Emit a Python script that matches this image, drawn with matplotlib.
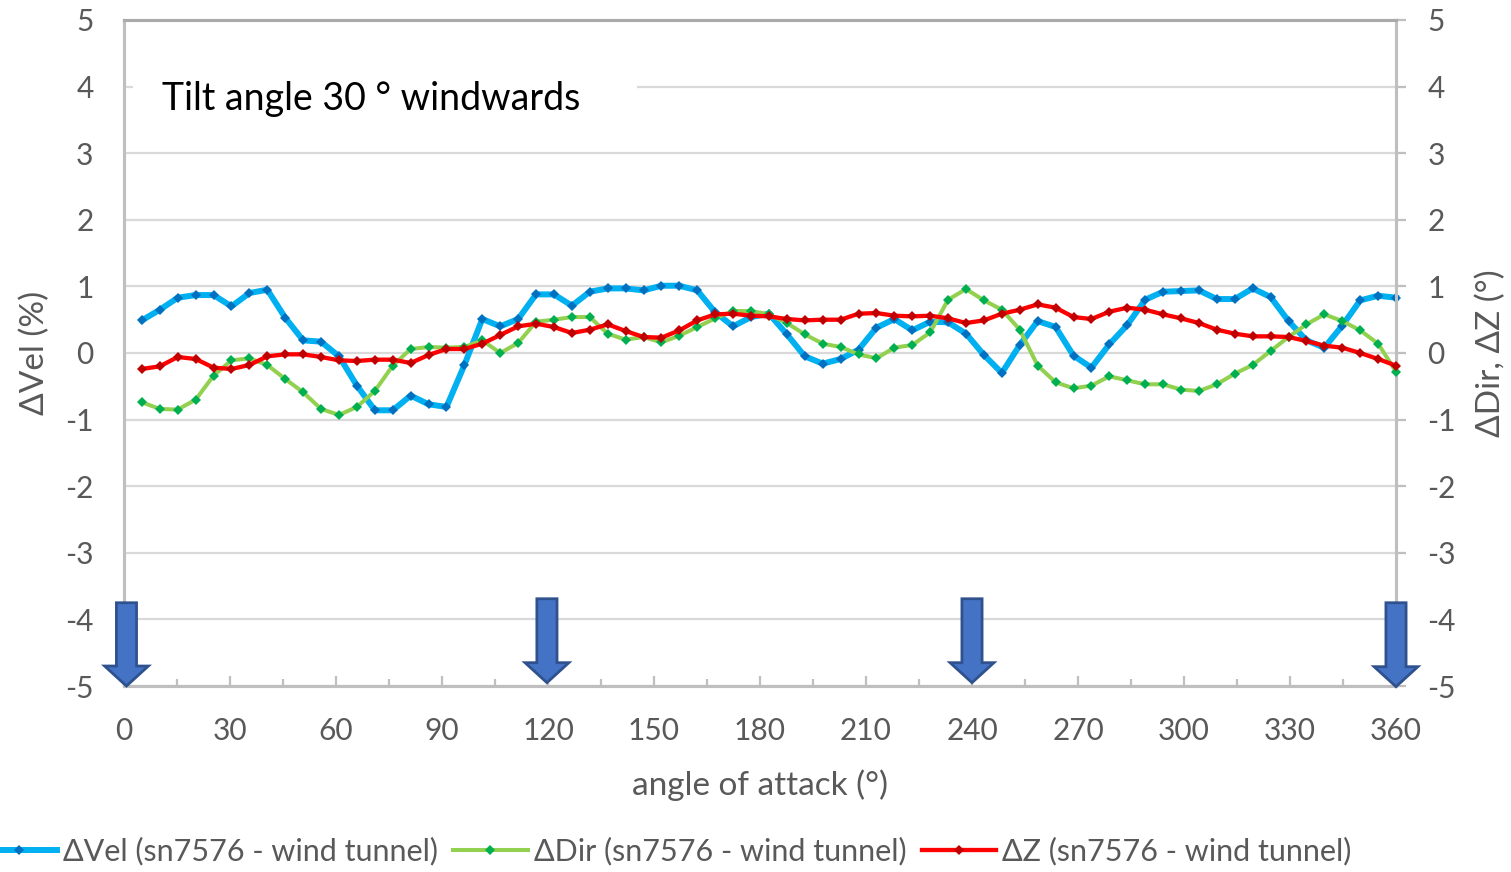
import matplotlib
matplotlib.use("Agg")
import matplotlib.pyplot as plt
from matplotlib.patches import FancyArrow, Rectangle
from matplotlib.ticker import MultipleLocator

plt.rcParams['font.family'] = ['Lato', 'DejaVu Sans']
plt.rcParams['axes.unicode_minus'] = False

# angle of attack (deg), 71 equally spaced stations over one revolution
angles = [5.07, 10.14, 15.21, 20.28, 25.35, 30.42, 35.49, 40.56, 45.63, 50.70,
          55.77, 60.85, 65.92, 70.99, 76.06, 81.13, 86.20, 91.27, 96.34, 101.41,
          106.48, 111.55, 116.62, 121.69, 126.76, 131.83, 136.90, 141.97, 147.04, 152.11,
          157.18, 162.25, 167.32, 172.39, 177.46, 182.54, 187.61, 192.68, 197.75, 202.82,
          207.89, 212.96, 218.03, 223.10, 228.17, 233.24, 238.31, 243.38, 248.45, 253.52,
          258.59, 263.66, 268.73, 273.80, 278.87, 283.94, 289.01, 294.08, 299.15, 304.23,
          309.30, 314.37, 319.44, 324.51, 329.58, 334.65, 339.72, 344.79, 349.86, 354.93,
          360.00]

# velocity deviation (%)
dvel = [0.49, 0.65, 0.83, 0.87, 0.87, 0.70, 0.90, 0.95, 0.53, 0.19,
        0.17, -0.05, -0.49, -0.86, -0.86, -0.64, -0.77, -0.81, -0.18, 0.51,
        0.40, 0.51, 0.88, 0.88, 0.71, 0.92, 0.97, 0.97, 0.94, 1.01,
        1.01, 0.94, 0.61, 0.40, 0.54, 0.59, 0.28, -0.05, -0.16, -0.09,
        0.05, 0.38, 0.51, 0.34, 0.47, 0.46, 0.29, -0.03, -0.30, 0.12,
        0.48, 0.39, -0.04, -0.22, 0.13, 0.42, 0.80, 0.92, 0.93, 0.94,
        0.81, 0.81, 0.97, 0.84, 0.48, 0.19, 0.08, 0.41, 0.79, 0.86,
        0.83]

# direction deviation (deg)
ddir = [-0.74, -0.84, -0.85, -0.70, -0.34, -0.11, -0.08, -0.18, -0.39, -0.59,
        -0.84, -0.93, -0.81, -0.57, -0.19, 0.06, 0.09, 0.08, 0.09, 0.19,
        0.00, 0.15, 0.47, 0.50, 0.54, 0.54, 0.29, 0.20, 0.24, 0.16,
        0.26, 0.39, 0.52, 0.63, 0.63, 0.58, 0.45, 0.28, 0.14, 0.09,
        -0.02, -0.08, 0.08, 0.12, 0.31, 0.80, 0.96, 0.79, 0.65, 0.35,
        -0.19, -0.44, -0.53, -0.49, -0.35, -0.41, -0.47, -0.47, -0.55, -0.57,
        -0.47, -0.31, -0.18, 0.03, 0.24, 0.43, 0.58, 0.48, 0.34, 0.14,
        -0.28]

# Z deviation (deg)
dz = [-0.24, -0.20, -0.06, -0.09, -0.22, -0.24, -0.18, -0.05, -0.02, -0.02,
      -0.06, -0.11, -0.12, -0.10, -0.10, -0.15, -0.03, 0.06, 0.06, 0.14,
      0.27, 0.40, 0.44, 0.39, 0.30, 0.35, 0.43, 0.33, 0.24, 0.23,
      0.34, 0.49, 0.58, 0.59, 0.56, 0.55, 0.51, 0.49, 0.50, 0.50,
      0.59, 0.60, 0.56, 0.55, 0.56, 0.52, 0.45, 0.49, 0.59, 0.65,
      0.73, 0.68, 0.54, 0.51, 0.62, 0.68, 0.65, 0.58, 0.52, 0.45,
      0.35, 0.29, 0.25, 0.25, 0.24, 0.18, 0.11, 0.08, 0.00, -0.09,
      -0.19]

# wind directions of the three struts and the start/end position
arrow_angles = [0.7, 119.7, 240.0, 360.0]
arrow_top = [-3.75, -3.69, -3.69, -3.75]
arrow_tip = [-5.0, -4.95, -4.95, -5.01]

labels = ["\u0394Vel (sn7576 - wind tunnel)",
          "\u0394Dir (sn7576 - wind tunnel)",
          "\u0394Z (sn7576 - wind tunnel)"]

TXT = '#595959'
AXC = '#bfbfbf'
GRID = '#d9d9d9'
TICK_FS = 21.5
LEG_FS = 22
LAB_FS = 24

fig = plt.figure(figsize=(15.11, 8.72), dpi=100)
ax = fig.add_axes([124 / 1511, 1 - 686 / 872, 1272 / 1511, 666 / 872])
ax2 = ax.twinx()

ax.set_xlim(0, 360)
ax.set_ylim(-5, 5)
ax2.set_ylim(-5, 5)

ax.set_axisbelow(True)
ax.yaxis.set_major_locator(MultipleLocator(1))
ax2.yaxis.set_major_locator(MultipleLocator(1))
ax.xaxis.set_major_locator(MultipleLocator(30))
ax.xaxis.set_minor_locator(MultipleLocator(15))
ax.grid(axis='y', color=GRID, lw=1.6)

for a in (ax, ax2):
    for s in a.spines.values():
        s.set_color(AXC)
        s.set_linewidth(2.2)
    a.spines['top'].set_color('#aaaaaa')

ax.tick_params(axis='x', which='major', direction='in', length=7.5, width=1.6,
               color=AXC, labelsize=TICK_FS, labelcolor=TXT, pad=22)
ax.tick_params(axis='x', which='minor', direction='in', length=5, width=1.6, color=AXC)
ax.tick_params(axis='y', length=0, labelsize=TICK_FS, labelcolor=TXT, pad=22)
ax2.tick_params(axis='y', direction='out', length=7.5, width=1.6, color=AXC,
                labelsize=TICK_FS, labelcolor=TXT, pad=15)

# white box behind the annotation text
ax.add_patch(Rectangle((0.007, 0.83), 0.396, 0.105, transform=ax.transAxes,
                       facecolor='white', edgecolor='none', zorder=1))
ax.text(0.0296, 0.882, "Tilt angle 30 \u00b0 windwards", transform=ax.transAxes,
        fontsize=27, color='black', ha='left', va='center', zorder=2)

l1, = ax.plot(angles, dvel, color='#00B0F0', lw=4.3, marker='D', ms=5,
              mfc='#0070C0', mec='#0070C0', mew=0, zorder=3, clip_on=False)
l2, = ax2.plot(angles, ddir, color='#92D050', lw=2.9, marker='D', ms=5,
               mfc='#00B050', mec='#00B050', mew=0, zorder=3, clip_on=False)
l3, = ax2.plot(angles, dz, color='#FF0000', lw=3.1, marker='D', ms=5,
               mfc='#C00000', mec='#C00000', mew=0, zorder=4, clip_on=False)

for xa, yt, yb in zip(arrow_angles, arrow_top, arrow_tip):
    ax2.add_patch(FancyArrow(xa, yt, 0, yb - yt, width=5.7, head_width=12.4,
                             head_length=0.30, length_includes_head=True,
                             facecolor='#4472C4', edgecolor='#2F528F', lw=2,
                             zorder=6, clip_on=False))

fig.text(760 / 1511, 1 - 785 / 872, "angle of attack (\u00b0)", fontsize=LAB_FS,
         color=TXT, ha='center', va='center')
fig.text(35 / 1511, 1 - 353 / 872, "\u0394Vel (%)", fontsize=LAB_FS, color=TXT,
         ha='center', va='center', rotation=90)
fig.text(1491 / 1511, 1 - 353 / 872, "\u0394Dir, \u0394Z (\u00b0)", fontsize=LAB_FS,
         color=TXT, ha='center', va='center', rotation=90)

fig.legend([l1, l2, l3], labels, loc='center left',
           bbox_to_anchor=(-18 / 1511, 1 - 851 / 872),
           ncol=3, frameon=False, fontsize=LEG_FS, labelcolor=TXT, handlelength=2.45,
           handletextpad=0.2, columnspacing=0.49, borderpad=0, borderaxespad=0)

fig.savefig("out.png", dpi=100)
